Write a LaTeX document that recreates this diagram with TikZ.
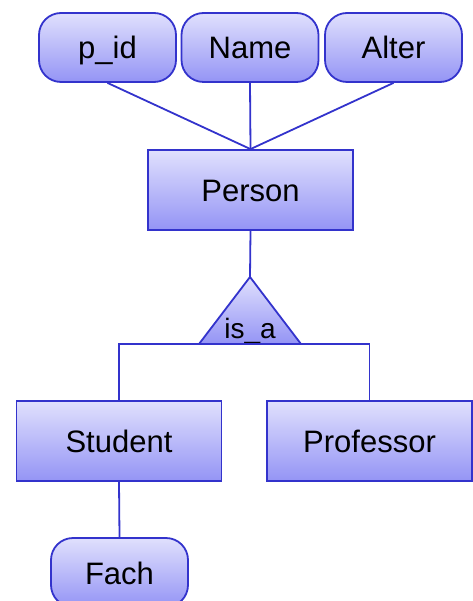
\documentclass[tikz,border=0pt]{standalone}
\usepackage{fontspec}
\setmainfont{Liberation Sans}
\definecolor{erline}{RGB}{51,51,204}
\definecolor{ertop}{RGB}{224,224,253}
\definecolor{erbot}{RGB}{148,148,245}
\tikzset{
  entity/.style={draw=erline, line width=1.8pt, top color=ertop, bottom color=erbot,
    minimum width=205pt, minimum height=80pt, inner sep=0pt, text height=23pt, text depth=0pt,
    font=\fontsize{31}{36}\selectfont},
  attrib/.style={entity, rounded corners=22pt, minimum width=137pt, minimum height=69pt},
  conn/.style={draw=erline, line width=1.8pt}
}
\begin{document}
\begin{tikzpicture}[x=1pt,y=-1pt]
\useasboundingbox (0,0) rectangle (472,601);
\node[attrib] (pid) at (107.5,47.5) {p\_id};
\node[attrib] (name) at (250,47.5) {Name};
\node[attrib] (alter) at (393.5,47.5) {Alter};
\node[entity] (person) at (250.5,190) {Person};
\node[entity] (student) at (119,441) {Student};
\node[entity] (prof) at (369.5,441) {Professor};
\node[attrib] (fach) at (119.5,572.5) {Fach};
\coordinate (top) at (250,277);
\coordinate (bl) at (199,344);
\coordinate (br) at (301,344);
\coordinate (base) at (250,344);
\shade[top color=ertop, bottom color=erbot, draw=erline, line width=1.8pt, line join=round]
  (top) -- (bl) -- (br) -- cycle;
\node[font=\fontsize{28}{32}\selectfont, inner sep=0pt, text height=20pt, text depth=0pt] (isa) at (250,328) {is\_a};
\draw[conn] (pid.south) -- (person.north);
\draw[conn] (name.south) -- (person.north);
\draw[conn] (alter.south) -- (person.north);
\draw[conn] (person.south) -- (top);
\draw[conn] (student.north) |- (base) -| (prof.north);
\draw[conn] (student.south) -- (fach.north);
\end{tikzpicture}
\end{document}
